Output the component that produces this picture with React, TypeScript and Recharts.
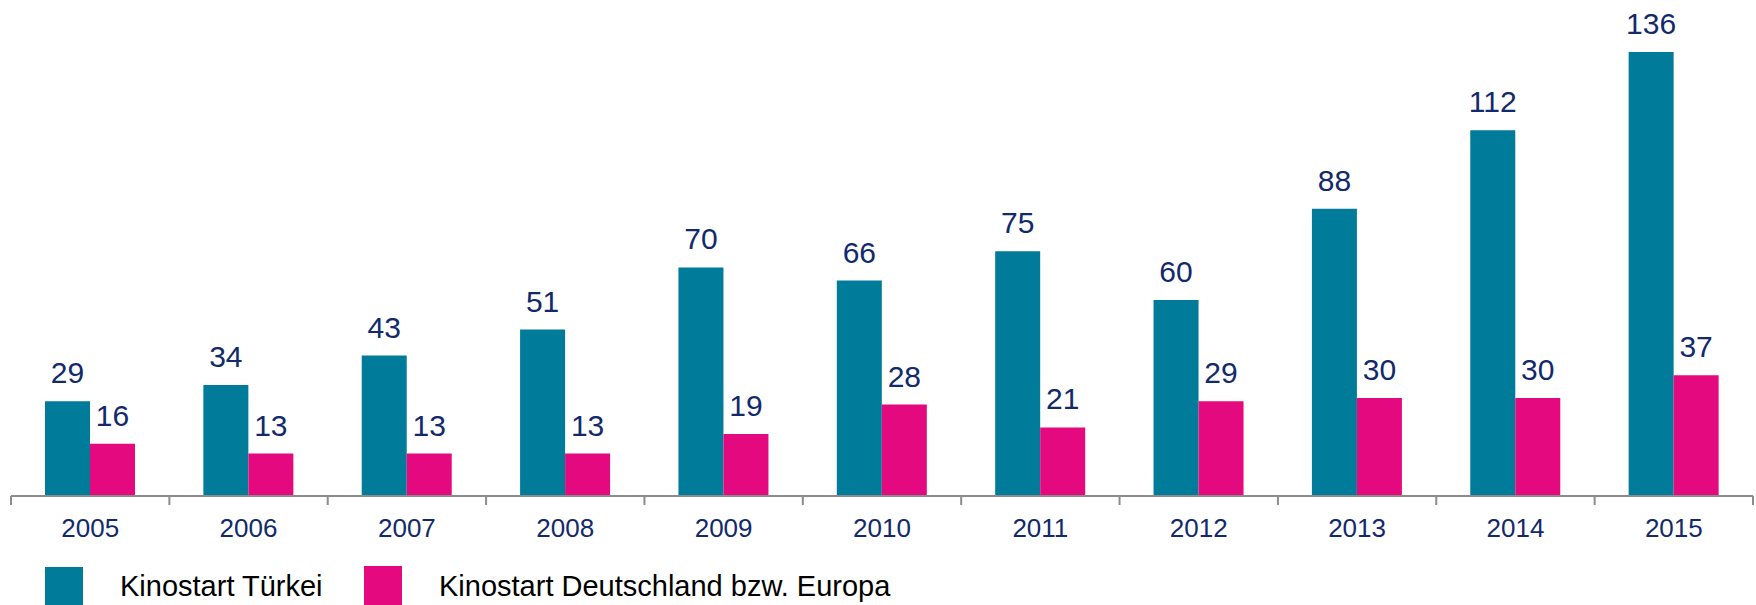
import { Bar, BarChart, LabelList, Legend, XAxis, YAxis } from "recharts";

const years = ["2005", "2006", "2007", "2008", "2009", "2010", "2011", "2012", "2013", "2014", "2015"];
const tuerkei = [29, 34, 43, 51, 70, 66, 75, 60, 88, 112, 136];
const europa = [16, 13, 13, 13, 19, 28, 21, 29, 30, 30, 37];

const data = years.map((year, i) => ({ year, tuerkei: tuerkei[i], europa: europa[i] }));

const TEAL = "#007b99";
const PINK = "#e5097f";
const NAVY = "#12296b";
const GREY = "#8c8c8c";
const FONT = "'Liberation Sans', Arial, sans-serif";

// tick label plus separator marks at the category boundaries
function YearTick(props: any) {
  const { x, y, payload, index, visibleTicksCount } = props;
  const half = payload.offset ?? 1742 / years.length / 2;
  const last = index === visibleTicksCount - 1;
  return (
    <g>
      <line x1={x - half} x2={x - half} y1={y} y2={y + 9} stroke={GREY} strokeWidth={2} />
      {last ? <line x1={x + half} x2={x + half} y1={y} y2={y + 9} stroke={GREY} strokeWidth={2} /> : null}
      <text x={x} y={y + 23} dy="0.71em" textAnchor="middle" fill={NAVY} fontSize={26} fontFamily={FONT}>
        {payload.value}
      </text>
    </g>
  );
}

function LegendBox() {
  return (
    <div style={{ position: "relative", height: 39, fontFamily: FONT, fontSize: 29, color: "#000" }}>
      <div style={{ position: "absolute", left: 45, top: 1, width: 38, height: 38, background: TEAL }} />
      <span style={{ position: "absolute", left: 120, top: 4, whiteSpace: "nowrap" }}>Kinostart Türkei</span>
      <div style={{ position: "absolute", left: 364, top: 0, width: 38, height: 39, background: PINK }} />
      <span style={{ position: "absolute", left: 439, top: 4, whiteSpace: "nowrap" }}>
        Kinostart Deutschland bzw. Europa
      </span>
    </div>
  );
}

export default function App() {
  return (
    <div style={{ position: "absolute", left: 0, top: 0, background: "#fff" }}>
      <BarChart
        width={1756}
        height={605}
        data={data}
        margin={{ top: 52, right: 3, left: 11, bottom: 49 }}
        barGap={0}
      >
        <XAxis
          dataKey="year"
          height={60}
          axisLine={{ stroke: GREY, strokeWidth: 2 }}
          tickLine={false}
          tickSize={0}
          tickMargin={0}
          interval={0}
          tick={<YearTick />}
        />
        <YAxis hide domain={[0, 136]} />
        <Legend
          layout="horizontal"
          verticalAlign="middle"
          align="center"
          wrapperStyle={{ left: 0, top: 566, width: 1756, height: 39 }}
          content={() => <LegendBox />}
        />
        <Bar dataKey="tuerkei" name="Kinostart Türkei" fill={TEAL} barSize={45} isAnimationActive={false}>
          <LabelList dataKey="tuerkei" position="top" offset={18} fill={NAVY} fontSize={30} fontFamily={FONT} />
        </Bar>
        <Bar dataKey="europa" name="Kinostart Deutschland bzw. Europa" fill={PINK} barSize={45} isAnimationActive={false}>
          <LabelList dataKey="europa" position="top" offset={18} fill={NAVY} fontSize={30} fontFamily={FONT} />
        </Bar>
      </BarChart>
    </div>
  );
}
